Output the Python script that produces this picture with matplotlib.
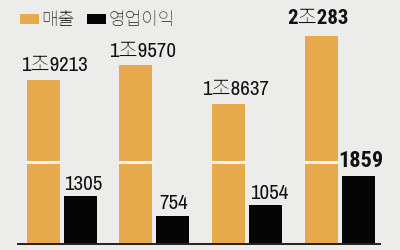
import matplotlib
matplotlib.use("Agg")
import matplotlib.pyplot as plt
from matplotlib.patches import Patch
import numpy as np

# ---- data ----
categories = ["1", "2", "3", "4"]
sales = [19213, 19570, 18637, 20283]            # 매출 (억원)
profit = [1305, 754, 1054, 1859]                # 영업이익 (억원)
sales_labels = ["1조9213", "1조9570", "1조8637", "2조283"]
profit_labels = ["1305", "754", "1054", "1859"]
series_names = ["매출", "영업이익"]

# ---- style ----
BG = "#ececea"
ORANGE = "#e6aa4c"
BLACK = "#050505"
GAP = "#f6f6f4"
narrow = ["Archivo Narrow", "Noto Sans KR", "DejaVu Sans"]
narrow_bold = ["Roboto Condensed", "Noto Sans KR", "DejaVu Sans"]
kr = ["Noto Sans KR", "NanumGothic", "DejaVu Sans"]

fig = plt.figure(figsize=(4, 2.5), dpi=100, facecolor=BG)
ax = fig.add_axes([0, 6 / 250, 1, 244 / 250])
ax2 = ax.twinx()
for a in (ax, ax2):
    a.set_facecolor("none")
    a.axis("off")
ax.set_zorder(1)
ax2.set_zorder(2)

x = np.arange(len(categories))
off = 0.2
w = 0.356

# truncated scale for sales (broken axis), full scale for profit
s_bottom = 15266
s_per_px = 24.08
p_per_px = 27.3
ax.set_ylim(s_bottom, s_bottom + s_per_px * 244)
ax2.set_ylim(0, p_per_px * 244)
xl = (-0.666, 3.649)
ax.set_xlim(*xl)
ax2.set_xlim(*xl)

ax.bar(x - off, np.array(sales) - s_bottom, bottom=s_bottom, width=w, color=ORANGE, zorder=2)
# axis-break gap
gap_lo, gap_hi = s_bottom + s_per_px * 80, s_bottom + s_per_px * 83
ax.bar(x - off, gap_hi - gap_lo, bottom=gap_lo, width=w + 0.01, color=GAP, zorder=3)
ax2.bar(x + off, profit, width=w, color=BLACK, zorder=2)

# baseline
ax2.axhline(0, xmin=18 / 400, xmax=380 / 400, color="#222222", lw=1.4, zorder=5, clip_on=False)

# value labels
s_dx = [11, 7, 7, -3]
s_dy = [9, 8, 9, 12]
s_bold = [False, False, False, True]
for i, (v, lab) in enumerate(zip(sales, sales_labels)):
    ax.annotate(lab, xy=(x[i] - off, v), xytext=(s_dx[i], s_dy[i]), textcoords="offset pixels",
                ha="center", va="baseline", fontsize=15,
                family=narrow_bold if s_bold[i] else narrow,
                fontweight="bold" if s_bold[i] else "normal", color="#111111", zorder=6)
p_dx = [3, 1, 3, 2]
p_dy = [6, 7, 6, 9]
p_bold = [False, False, False, True]
for i, (v, lab) in enumerate(zip(profit, profit_labels)):
    ax2.annotate(lab, xy=(x[i] + off, v), xytext=(p_dx[i], p_dy[i]), textcoords="offset pixels",
                 ha="center", va="baseline", fontsize=16 if p_bold[i] else 15,
                 family=narrow_bold if p_bold[i] else narrow,
                 fontweight="bold" if p_bold[i] else "normal", color="#111111", zorder=6)

# legend
handles = [Patch(facecolor=ORANGE, edgecolor="none"), Patch(facecolor=BLACK, edgecolor="none")]
leg = ax2.legend(handles, series_names, ncol=2, loc="center left",
                 bbox_to_anchor=(20 / 400, (244 - 20) / 244), frameon=False,
                 prop={"family": kr, "size": 13}, handlelength=1.05, handleheight=0.5,
                 handletextpad=0.12, columnspacing=0.7, borderpad=0, borderaxespad=0)
for t in leg.get_texts():
    t.set_color("#222222")

fig.savefig("out.png", dpi=100, facecolor=BG)
